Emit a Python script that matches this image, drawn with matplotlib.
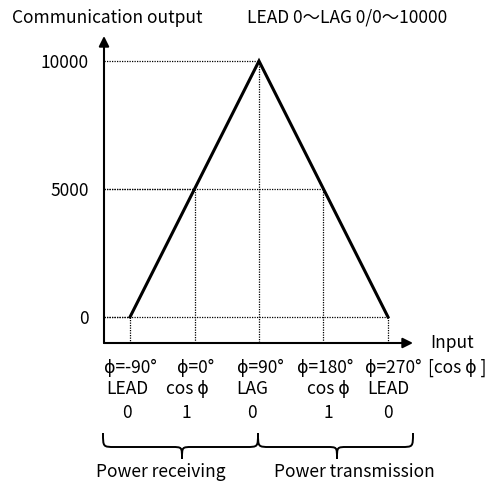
import matplotlib
matplotlib.use("Agg")
import matplotlib.pyplot as plt
from matplotlib.path import Path
from matplotlib.patches import PathPatch

plt.rcParams['font.family'] = ['Noto Sans CJK JP', 'DejaVu Sans']

# Data: communication output vs. input phase angle
phase_deg = [-90, 0, 90, 180, 270]
output = [0, 5000, 10000, 5000, 0]
y_ticks = [0, 5000, 10000]
y_tick_labels = ["0", "5000", "10000"]
phase_labels = ["ϕ=-90°", "ϕ=0°", "ϕ=90°", "ϕ=180°", "ϕ=270°"]
pf_kind_labels = ["LEAD", "cos ϕ", "LAG", "cos ϕ", "LEAD"]
pf_value_labels = ["0", "1", "0", "1", "0"]
title_left = "Communication output"
title_right = "LEAD 0～LAG 0/0～10000"
x_axis_label = "Input"
x_axis_unit = "[cos ϕ ]"
region_labels = ["Power receiving", "Power transmission"]

W, H = 492, 486
FS = 12.5
fig = plt.figure(figsize=(W / 100, H / 100), dpi=100)


def fx(x):
    return x / W


def fy(y):
    return 1 - y / H


# Main axes: left spine at x=104 px, bottom spine at y=343 px
ax = fig.add_axes([fx(104), fy(343), (413 - 104) / W, (343 - 36) / H])
ax.set_xlim(-126.3, 304.9)
ax.set_ylim(-1016, 10977)
for s in ax.spines.values():
    s.set_visible(False)
ax.set_xticks([])
ax.set_yticks(y_ticks)
ax.set_yticklabels(y_tick_labels, fontsize=FS)
ax.tick_params(axis='y', length=0, pad=11)

xmin, xmax = ax.get_xlim()
ymin, ymax = ax.get_ylim()

# Axis arrows
ax.annotate('', xy=(1, 0), xytext=(0, 0), xycoords='axes fraction',
            arrowprops=dict(arrowstyle='-|>', lw=1.5, color='black',
                            mutation_scale=15, shrinkA=0, shrinkB=0))
ax.annotate('', xy=(0, 1), xytext=(0, 0), xycoords='axes fraction',
            arrowprops=dict(arrowstyle='-|>', lw=1.5, color='black',
                            mutation_scale=15, shrinkA=0, shrinkB=0))

# Dotted guide lines from each vertex to both axes
for x, y in zip(phase_deg, output):
    ax.plot([xmin, x], [y, y], color='black', lw=0.9, ls=(0, (1, 1)), clip_on=False)
    ax.plot([x, x], [y, ymin], color='black', lw=0.9, ls=(0, (1, 1)), clip_on=False)

# Output characteristic
ax.plot(phase_deg, output, color='black', lw=2.2, solid_joinstyle='miter', clip_on=False)

# Labels under the x axis (three rows)
row_offsets = [-25, -46, -70]
row_nudges = [[0, 1, 1, 2, 5], [-3, -7, -7, 5, 0], [-3, -8, -7, 5, 0]]
for labels, dy, nudges in zip([phase_labels, pf_kind_labels, pf_value_labels],
                              row_offsets, row_nudges):
    for x, lab, dx in zip(phase_deg, labels, nudges):
        ax.annotate(lab, xy=(x, ymin), xycoords='data',
                    xytext=(dx, dy), textcoords='offset pixels',
                    ha='center', va='center', fontsize=FS, annotation_clip=False)

# Titles
fig.text(fx(107), fy(18), title_left, ha='center', va='center', fontsize=FS)
fig.text(fx(347), fy(18), title_right, ha='center', va='center', fontsize=FS)
fig.text(fx(430), fy(343), x_axis_label, ha='left', va='center', fontsize=FS)
fig.text(fx(428), fy(368), x_axis_unit, ha='left', va='center', fontsize=FS)

# Curly braces marking the two regions
ov = fig.add_axes([0, 0, 1, 1])
ov.set_xlim(0, W)
ov.set_ylim(H, 0)
ov.axis('off')
ov.patch.set_alpha(0)


def brace(x1, x2, xt, y_top, y_mid, y_tip, r=12, rt=10):
    verts = [(x1, y_top),
             (x1, y_mid), (x1, y_mid), (x1 + r, y_mid),
             (xt - rt, y_mid),
             (xt, y_mid), (xt, y_mid), (xt, y_tip),
             (xt, y_mid), (xt, y_mid), (xt + rt, y_mid),
             (x2 - r, y_mid),
             (x2, y_mid), (x2, y_mid), (x2, y_top)]
    codes = [Path.MOVETO,
             Path.CURVE4, Path.CURVE4, Path.CURVE4,
             Path.LINETO,
             Path.CURVE4, Path.CURVE4, Path.CURVE4,
             Path.CURVE4, Path.CURVE4, Path.CURVE4,
             Path.LINETO,
             Path.CURVE4, Path.CURVE4, Path.CURVE4]
    ov.add_patch(PathPatch(Path(verts, codes), fill=False, lw=1.4, color='black'))


brace(103, 258, 182, 433, 447, 459)
brace(258, 413, 337, 433, 447, 459)

ov.text(161, 472, region_labels[0], ha='center', va='center', fontsize=FS)
ov.text(354, 472, region_labels[1], ha='center', va='center', fontsize=FS)

fig.savefig("out.png", dpi=100)
